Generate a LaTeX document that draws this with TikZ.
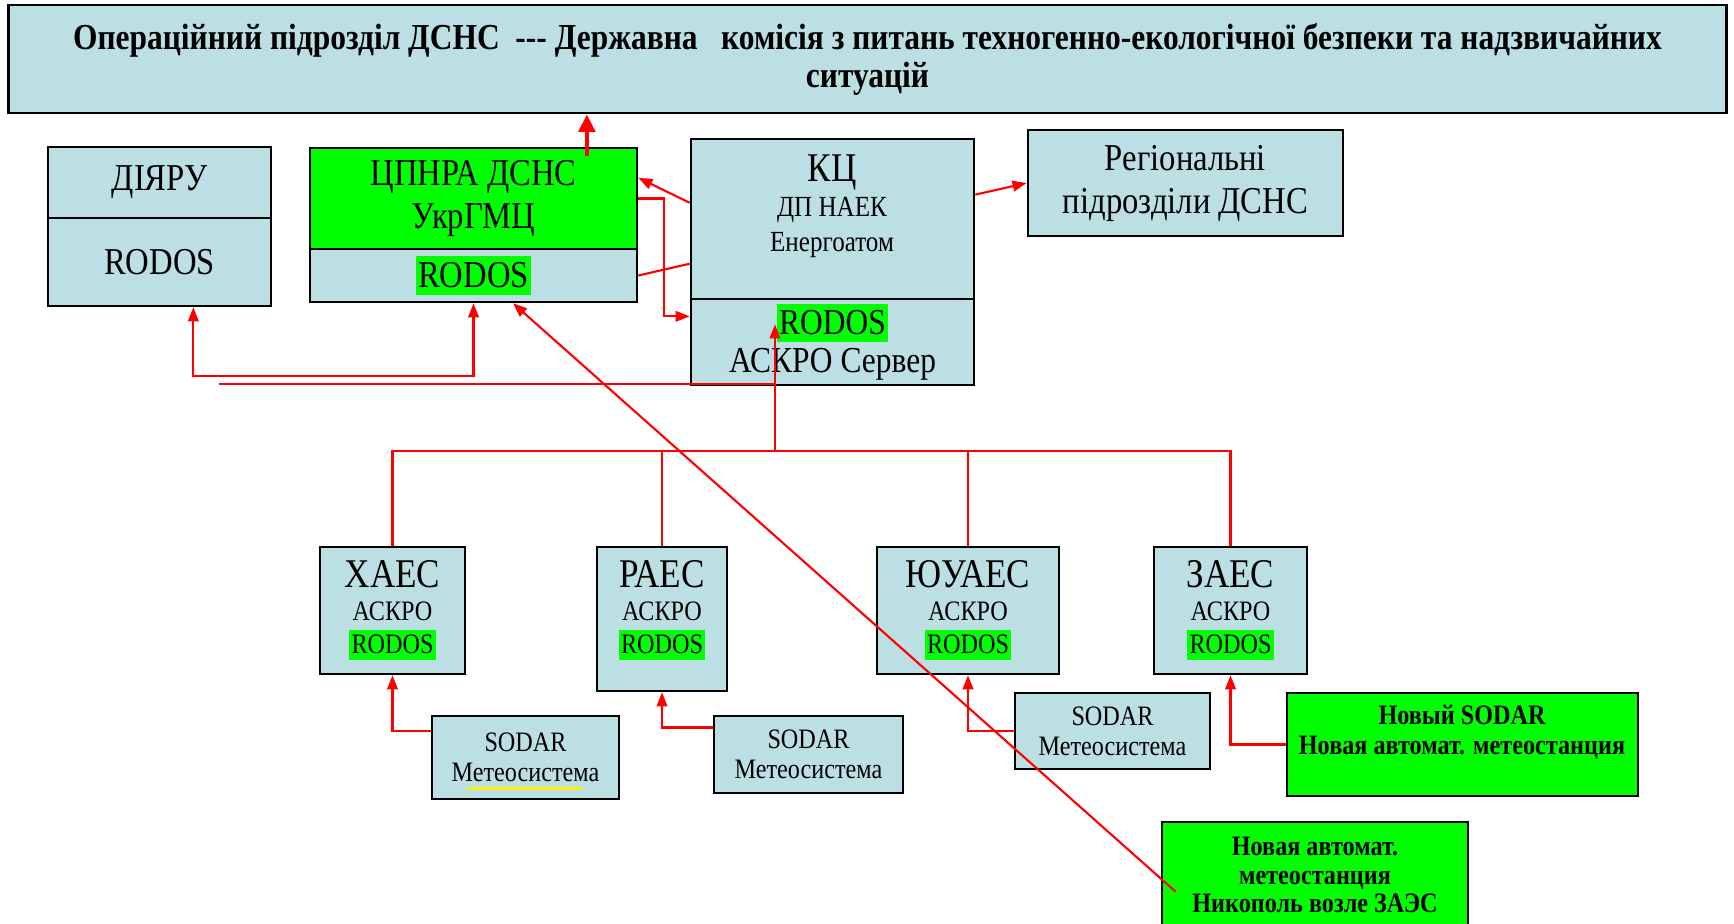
\documentclass[tikz,border=0pt]{standalone}
\usepackage{fontspec}
\setmainfont[FakeStretch=0.86]{Liberation Serif}
\usepackage{xcolor}
\usetikzlibrary{arrows.meta,calc,positioning}
\definecolor{boxblue}{RGB}{187,223,227}
\definecolor{hlgreen}{RGB}{0,255,0}
\definecolor{linered}{RGB}{255,0,0}
\newcommand{\hlg}[1]{{\setlength{\fboxsep}{0.6pt}\colorbox{hlgreen}{\rule[-0.15em]{0pt}{0.92em}#1}}}
\newcommand{\fsz}[2]{\fontsize{#1}{#2}\selectfont}
\tikzset{
    bluebox/.style={
        draw=black,
        line width=0.7pt,
        fill=boxblue,
        inner sep=0pt,
        align=center
    },
    greenbox/.style={bluebox, fill=hlgreen},
    redline/.style={line width=0.6pt, linered},
    % red connector with a small head
    redarrow/.style={
        redline,
        -{Triangle[length=4pt, width=3pt]}
    },
    bigarrow/.style={
        line width=1.3pt,
        linered,
        -{Triangle[length=5pt, width=4.6pt]}
    }
}

\begin{document}
\begin{tikzpicture}[x=0.01cm, y=-0.01cm]
    \useasboundingbox (0,0) rectangle (1734,923);
    \clip (0,0) rectangle (1734,923);

    \node[bluebox, minimum width=17.17cm, minimum height=1.08cm, font={\bfseries\fsz{10.4}{10.8}}] (title) at (867.5,59)
        {Операційний підрозділ ДСНС\ \ {-}{-}{-} Державна\ \ \ комісія з питань техногенно-екологічної безпеки та надзвичайних\\ситуацій};

    \node[bluebox, minimum width=2.23cm, minimum height=0.71cm, font=\fsz{10.8}{12}] (diyT) at (159.5,182.5) {ДІЯРУ};
    \node[bluebox, minimum width=2.23cm, minimum height=0.88cm, font=\fsz{10.8}{12}] (diyB) at (159.5,262) {RODOS};
    \node[greenbox, minimum width=3.27cm, minimum height=1.01cm, font=\fsz{10.8}{12}] (cpnraT) at (473.5,198.5) {ЦПНРА ДСНС\\УкрГМЦ};
    \node[bluebox, minimum width=3.27cm, minimum height=0.53cm, font=\fsz{10.8}{12}] (cpnraB) at (473.5,275.5) {\hlg{RODOS}};
    \node[bluebox, minimum width=2.83cm, minimum height=1.60cm] (kcT) at (832.5,219) {};
    \node[align=center, font=\fsz{8.3}{10}] (kcTxt) at (832,206) {{\fsz{11.6}{12}КЦ}\\ДП НАЕК\\Енергоатом};
    \node[bluebox, minimum width=2.83cm, minimum height=0.86cm, font=\fsz{10.4}{10.8}] (kcB) at (832.5,342) {\hlg{RODOS}\\АСКРО Сервер};
    \node[bluebox, minimum width=3.15cm, minimum height=1.06cm, font=\fsz{10.8}{12.2}] (reg) at (1185.5,183) {Регіональні\\підрозділи ДСНС};

    \node[bluebox, minimum width=1.45cm, minimum height=1.27cm, font=\fsz{8}{9.4}] (khaes) at (392.5,610.5) {{\fsz{11.6}{12}ХАЕС}\\АСКРО\\\hlg{RODOS}};
    \node[bluebox, minimum width=1.30cm, minimum height=1.44cm] (raes) at (662,619) {};
    \node[align=center, font=\fsz{8}{9.4}] (raesTxt) at (662,610) {{\fsz{11.6}{12}РАЕС}\\АСКРО\\\hlg{RODOS}};
    \node[bluebox, minimum width=1.82cm, minimum height=1.27cm, font=\fsz{8}{9.4}] (yuaes) at (968,610.5) {{\fsz{11.6}{12}ЮУАЕС}\\АСКРО\\\hlg{RODOS}};
    \node[bluebox, minimum width=1.53cm, minimum height=1.27cm, font=\fsz{8}{9.4}] (zaes) at (1230.5,610.5) {{\fsz{11.6}{12}ЗАЕС}\\АСКРО\\\hlg{RODOS}};

    \node[bluebox, minimum width=1.87cm, minimum height=0.83cm, font=\fsz{8}{8.5}] (sod1) at (525.5,757.5) {SODAR\\Метеосистема};
    \node[bluebox, minimum width=1.89cm, minimum height=0.77cm, font=\fsz{8}{8.5}] (sod2) at (808.5,754.5) {SODAR\\Метеосистема};
    \node[bluebox, minimum width=1.95cm, minimum height=0.76cm, font=\fsz{8}{8.5}] (sod3) at (1112.5,731) {SODAR\\Метеосистема};
    \node[greenbox, minimum width=3.51cm, minimum height=1.03cm] (newsod) at (1462.5,744.5) {};
    \node[align=center, font={\bfseries\fsz{8}{8.5}}] (newsodTxt) at (1462,732) {Новый SODAR\\Новая автомат. метеостанция};
    \node[greenbox, minimum width=3.06cm, minimum height=1.18cm] (nova) at (1315,881) {};
    \node[align=center, font={\bfseries\fsz{8}{8}}] (novaTxt) at (1315,875) {Новая автомат.\\метеостанция\\Никополь возле ЗАЭС};

    \coordinate (hub) at (775,451);
    \coordinate (busEnd) at (219,384);
    \coordinate (upFrom) at ($(cpnraT.north west)!0.844!(cpnraT.north east)+(0,9)$);

    \draw[bigarrow] (upFrom) -- (upFrom |- title.south);
    \draw[redarrow] ($(kcT.north west)!0.4!(kcT.south west)$) -- ($(cpnraT.north east)!0.3!(cpnraT.south east)$);
    \draw[redarrow] (cpnraT.east) -- ++(26,0) |- ($(kcB.north west)!0.21!(kcB.south west)$);
    \draw[redline] (cpnraB.east) -- ($(kcT.north west)!0.775!(kcT.south west)$);
    \draw[redarrow] ($(kcT.north east)!0.35!(kcT.south east)$) -- (reg.west);
    \draw[redline, {Triangle[length=4pt, width=3pt]}-{Triangle[length=4pt, width=3pt]}]
        ($(diyB.south west)!0.65!(diyB.south east)$) -- ++(0,69) -| (cpnraB.south);
    \draw[redline] (busEnd) -- (busEnd -| hub);
    \draw[redarrow] (hub) -- ($(hub |- kcB.south)+(0,-62)$);
    \draw[redline] (khaes.north) |- (hub) -| (zaes.north);
    \draw[redline] (raes.north) -- (raes.north |- hub);
    \draw[redline] (yuaes.north) -- (yuaes.north |- hub);
    \draw[redarrow] ($(sod1.north west)!0.19!(sod1.south west)$) -| (khaes.south);
    \draw[redarrow] ($(sod2.north west)!0.16!(sod2.south west)$) -| (raes.south);
    \draw[redarrow] (sod3.west) -| (yuaes.south);
    \draw[redarrow] (newsod.west) -| (zaes.south);
    \draw[redarrow] ($(nova.north west)+(15,71)$) -- ($(cpnraB.south west)!0.62!(cpnraB.south east)$);
    \draw[yellow, line width=0.8pt] ($(sod1.south west)+(36,-12)$) -- ++(115,0);
\end{tikzpicture}
\end{document}
